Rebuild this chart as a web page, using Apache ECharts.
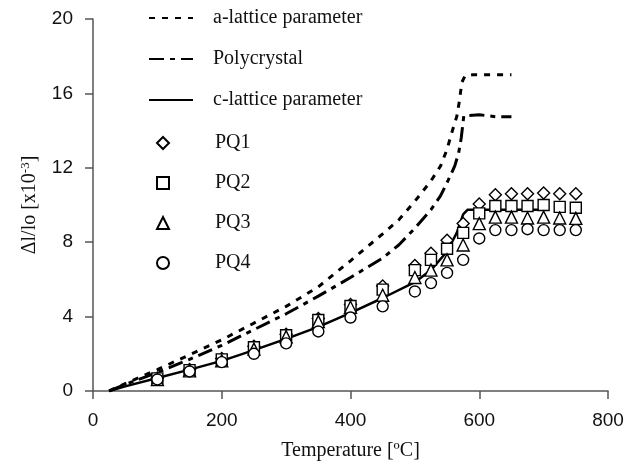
<!DOCTYPE html>
<html><head><meta charset="utf-8">
<script src="https://cdn.jsdelivr.net/npm/echarts@6/dist/echarts.min.js"></script>
<style>html,body{margin:0;padding:0;background:#fff}#c{width:631px;height:468px}</style>
</head><body><div id="c"></div>
<script>
// Lines
const aLatT = [25,50,100,150,200,250,300,350,400,450,475,500,525,540,550,557,565,569,573,578,590,620,650];
const aLatV = [0,0.4,1.15,1.95,2.75,3.65,4.55,5.6,7.0,8.45,9.2,10.2,11.3,12.1,13.0,13.85,14.75,15.55,16.6,16.95,17.0,17.0,17.0];
const polyT = [25,50,100,150,200,250,300,350,400,450,475,500,525,540,552,562,568,572,576,600,625,650];
const polyV = [0,0.35,1.0,1.7,2.45,3.3,4.15,5.1,6.1,7.15,7.85,8.75,9.75,10.5,11.35,12.1,12.8,13.6,14.8,14.85,14.75,14.75];
const cLatT = [25,50,100,150,200,250,300,350,400,450,500,525,550,565,575,582,600,650,705];
const cLatV = [0,0.25,0.7,1.15,1.62,2.2,2.8,3.45,4.2,5.0,5.85,6.5,7.5,8.5,9.5,9.75,9.75,9.75,9.75];
// Markers
const pqT = [100,150,200,250,300,350,400,450,500,525,550,575,600,625,650,675,700,725,750];
const pq1 = [0.7,1.15,1.75,2.4,3.05,3.9,4.65,5.65,6.75,7.4,8.1,9.0,10.05,10.55,10.6,10.6,10.65,10.6,10.6];
const pq2 = [0.68,1.12,1.7,2.35,3.0,3.82,4.57,5.45,6.5,7.05,7.65,8.5,9.55,9.95,9.95,9.95,10.0,9.9,9.85];
const pq3 = [0.62,1.08,1.62,2.25,2.92,3.73,4.5,5.15,6.1,6.5,7.05,7.85,9.0,9.35,9.35,9.3,9.35,9.3,9.28];
const pq4 = [0.62,1.05,1.55,2.0,2.56,3.2,3.95,4.55,5.35,5.8,6.35,7.05,8.2,8.65,8.65,8.7,8.65,8.65,8.65];
// Axes
const xTicks = {min:0, max:800, interval:200};
const yTicks = {min:0, max:20, interval:4};

const zip = (a,b) => a.map((t,i)=>[t,b[i]]);
const chart = echarts.init(document.getElementById('c'), null, {renderer:'canvas'});
const serif = 'Liberation Serif';
const sans = 'Liberation Sans';
const axisCol = '#555';
function lineSeries(name, T, V, type, width){
  return {name, type:'line', data:zip(T,V), symbol:'none', showSymbol:false, z:2,
    lineStyle:{color:'#000', width, type, cap:'butt'}, itemStyle:{color:'#000'}};
}
function scat(name, V, sym, size){
  return {name, type:'scatter', data:zip(pqT,V), symbol:sym, symbolSize:size, z:3,
    itemStyle:{color:'#fff', borderColor:'#000', borderWidth:1.4, opacity:1}};
}
chart.setOption({
  animation:false,
  backgroundColor:'#fff',
  grid:{left:93, right:23, top:19, bottom:77, containLabel:false},
  xAxis:{type:'value', min:xTicks.min, max:xTicks.max, interval:xTicks.interval,
    name:'Temperature [ºC]', nameLocation:'middle', nameGap:50,
    nameTextStyle:{fontFamily:serif, fontSize:20, color:'#111'},
    axisLine:{lineStyle:{color:axisCol, width:1.5}},
    axisTick:{show:true, length:8, lineStyle:{color:axisCol, width:1.5}},
    axisLabel:{fontFamily:sans, fontSize:19, color:'#111', margin:20},
    splitLine:{show:false}},
  yAxis:{type:'value', min:yTicks.min, max:yTicks.max, interval:yTicks.interval,
    name:'Δl/lo [x10{sup|-3}]', nameLocation:'middle', nameGap:52, nameRotate:90,
    nameTextStyle:{fontFamily:serif, fontSize:20, color:'#111', lineHeight:22,
      rich:{sup:{fontFamily:serif, fontSize:13, verticalAlign:'top', lineHeight:22, color:'#111'}}},
    axisLine:{show:true, lineStyle:{color:axisCol, width:1.5}},
    axisTick:{show:true, length:8, lineStyle:{color:axisCol, width:1.5}},
    axisLabel:{fontFamily:sans, fontSize:19, color:'#111', margin:20},
    splitLine:{show:false}},
  legend:[
    {data:['a-lattice parameter','Polycrystal','c-lattice parameter'], orient:'vertical',
     left:148, top:8, itemWidth:44, itemHeight:14, itemGap:21, padding:0,
     itemStyle:{color:'rgba(0,0,0,0)', borderColor:'rgba(0,0,0,0)', borderWidth:0, opacity:0},
     textStyle:{fontFamily:serif, fontSize:20, color:'#111', lineHeight:20, padding:[0,0,0,15]}},
    {data:['PQ1','PQ2','PQ3','PQ4'], orient:'vertical',
     left:156, top:133, itemWidth:12, itemHeight:12, itemGap:20, padding:0,
     textStyle:{fontFamily:serif, fontSize:20, color:'#111', lineHeight:20, padding:[0,0,0,41]}}
  ],
  series:[
    lineSeries('a-lattice parameter', aLatT, aLatV, [6,7], 3),
    lineSeries('Polycrystal', polyT, polyV, [15,6,5,6], 3),
    lineSeries('c-lattice parameter', cLatT, cLatV, 'solid', 2.5),
    scat('PQ1', pq1, 'diamond', 12),
    scat('PQ2', pq2, 'rect', 11),
    scat('PQ3', pq3, 'triangle', 12),
    scat('PQ4', pq4, 'circle', 11)
  ]
});
</script></body></html>
